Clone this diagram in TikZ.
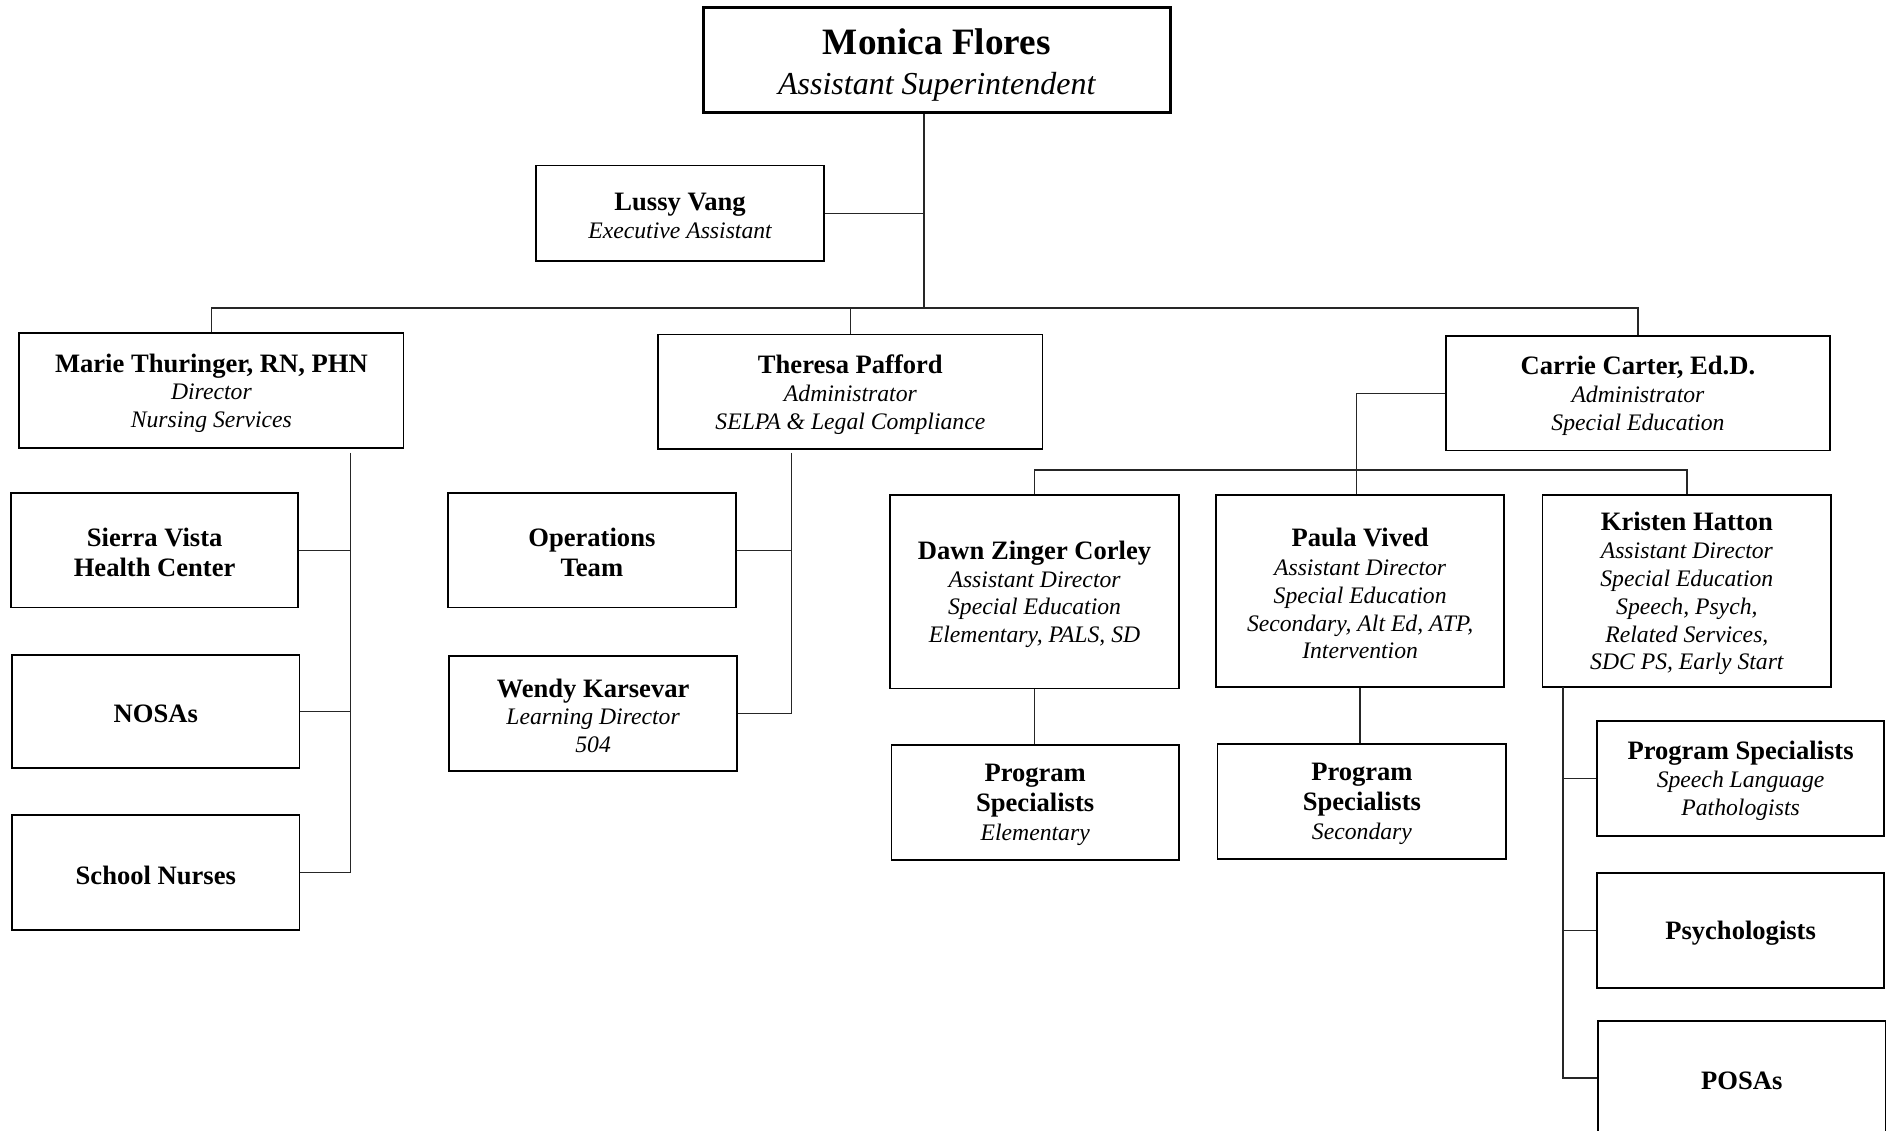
\documentclass[tikz,border=0pt]{standalone}
\usepackage{fontspec}
\setmainfont{Liberation Serif}
\newcommand\nm[1]{{\upshape\bfseries\fontsize{22}{24}\selectfont #1}}
\begin{document}
\begin{tikzpicture}[x=1pt,y=-1pt,
  box/.style={draw=black, line width=1.5pt, inner sep=0pt},
  txt/.style={align=center, inner sep=0pt,
    font=\fontsize{19.6}{23}\selectfont\itshape},
  ln/.style={draw=black!85, line width=1.1pt},
]
\newcommand\bx[5]{%
  \node[box, minimum width=#3, minimum height=#4] (#1) at (#2) {};
  \node[txt] (#1t) at ([yshift=-2pt]#1.center) {#5};}
\clip (0,0) rectangle (1568,936);
\fill[white] (0,0) rectangle (1568,936);

% nodes
\node[box, line width=2.5pt, minimum width=387pt, minimum height=87pt] (mf) at (775.5,49.5) {};
\node[txt, font=\fontsize{26.5}{33}\selectfont\itshape] (mft) at ([yshift=-4pt]mf.center)
  {{\upshape\bfseries\fontsize{30.8}{33}\selectfont Monica Flores}\\Assistant Superintendent};
\bx{lv}{563,176.5}{238pt}{79pt}{\nm{Lussy Vang}\\Executive Assistant}
\bx{mt}{175,323.5}{318pt}{95pt}{\nm{Marie Thuringer, RN, PHN}\\Director\\Nursing Services}
\bx{tp}{704,324.5}{318pt}{95pt}{\nm{Theresa Pafford}\\Administrator\\SELPA \& Legal Compliance}
\bx{cc}{1356,325.5}{318pt}{95pt}{\nm{Carrie Carter, Ed.D.}\\Administrator\\Special Education}

\bx{sv}{128,455.5}{238pt}{95pt}{\nm{Sierra Vista}\\[2pt]\nm{Health Center}}
\bx{no}{129,589}{238pt}{94pt}{\nm{NOSAs}}
\bx{sn}{129,722.5}{238pt}{95pt}{\nm{School Nurses}}

\bx{ot}{490,455.5}{238pt}{95pt}{\nm{Operations}\\[2pt]\nm{Team}}
\bx{wk}{491,590.5}{238pt}{95pt}{\nm{Wendy Karsevar}\\Learning Director\\504}

\bx{dz}{856.5,490}{239pt}{160pt}{\nm{Dawn Zinger Corley}\\Assistant Director\\Special Education\\Elementary, PALS, SD}
\bx{pv}{1126,489.5}{238pt}{159pt}{\nm{Paula Vived}\\[1pt]Assistant Director\\Special Education\\Secondary, Alt Ed, ATP,\\Intervention}
\bx{kh}{1396.5,489.5}{239pt}{159pt}{\nm{Kristen Hatton}\\Assistant Director\\Special Education\\Speech, Psych,\\Related Services,\\SDC PS, Early Start}

\bx{pe}{857,664.5}{238pt}{95pt}{\nm{Program}\\[2pt]\nm{Specialists}\\[1pt]Elementary}
\bx{ps}{1127.5,663.5}{239pt}{95pt}{\nm{Program}\\[2pt]\nm{Specialists}\\[1pt]Secondary}

\bx{pl}{1441,644.5}{238pt}{95pt}{\nm{Program Specialists}\\Speech Language\\Pathologists}
\bx{py}{1441,770.5}{238pt}{95pt}{\nm{Psychologists}}
\bx{po}{1442,892.5}{238pt}{95pt}{\nm{POSAs}}

% connectors
\coordinate (b0) at (765,255);
\draw[ln] (b0 |- mf.south) -- (b0);
\draw[ln] (lv.east) -- (lv.east -| b0);
\draw[ln] (mt.north) |- (b0) -| (cc.north);
\draw[ln] (tp.north) -- (tp.north |- b0);

\coordinate (m1) at (290,375);
\draw[ln] (m1) |- (sn.east);
\draw[ln] (sv.east) -- (sv.east -| m1);
\draw[ln] (no.east) -- (no.east -| m1);

\coordinate (t1) at (655,375);
\draw[ln] (t1) |- (wk.east);
\draw[ln] (ot.east) -- (ot.east -| t1);

\coordinate (c1) at (1123,389);
\draw[ln] (cc.west) -| (c1 |- pv.north);
\draw[ln] (dz.north) |- (c1) -| (kh.north);
\draw[ln] (dz.south) -- (dz.south |- pe.north);
\draw[ln] (pv.south) -- (pv.south |- ps.north);

\coordinate (k1) at (1294,569);
\draw[ln] (k1) |- (po.west);
\draw[ln] (pl.west) -- (pl.west -| k1);
\draw[ln] (py.west) -- (py.west -| k1);
\end{tikzpicture}
\end{document}
